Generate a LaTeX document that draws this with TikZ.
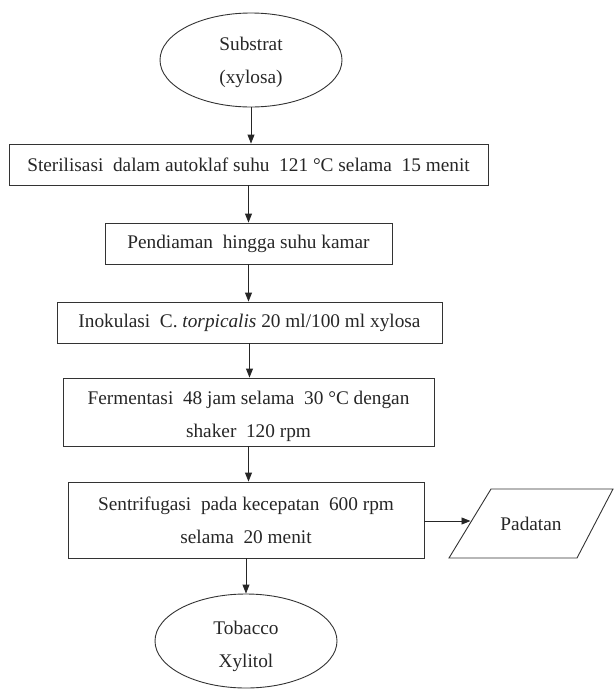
\documentclass[tikz,border=0pt]{standalone}
\usepackage{fontspec}
\setmainfont{Liberation Serif}
\usetikzlibrary{arrows.meta,shapes.geometric}
\begin{document}
\begin{tikzpicture}[x=1pt,y=-1pt,
  every node/.style={font=\fontsize{19.3}{33}\selectfont, text=black!85, align=center, inner sep=0pt},
  boxnode/.style={draw=black!80, line width=0.9pt, rectangle},
  ovalnode/.style={draw=black!80, line width=0.9pt, ellipse, minimum width=182pt, minimum height=94pt},
  edge line/.style={draw=black!80, line width=0.9pt},
  arr/.style={draw=black!85, line width=0.9pt, -{Triangle[length=9pt,width=7pt]}}
]
\useasboundingbox (0,0) rectangle (616,689);
\node[ovalnode] (sub) at (251,60) {\rule{0pt}{19pt}Substrat\\(xylosa)};
\node[boxnode, minimum width=479pt, minimum height=41pt] (b1) at (248.5,164.5)
  {Sterilisasi\ \ dalam autoklaf suhu\ \ 121 °C selama\ \ 15 menit};
\node[boxnode, minimum width=287pt, minimum height=41pt] (b2) at (248.5,243.5)
  {Pendiaman\ \ hingga suhu kamar};
\node[boxnode, minimum width=385pt, minimum height=41pt] (b3) at (249.5,322.5)
  {Inokulasi\ \ C. \textit{torpicalis} 20 ml/100 ml xylosa};
\node[boxnode, minimum width=371pt, minimum height=68pt] (b4) at (248.5,412)
  {\rule{0pt}{22pt}Fermentasi\ \ 48 jam selama\ \ 30 °C dengan\\shaker\ \ 120 rpm};
\node[boxnode, minimum width=356pt, minimum height=76pt] (b5) at (246,520)
  {Sentrifugasi\ \ pada kecepatan\ \ 600 rpm\\selama\ \ 20 menit};
\node[ovalnode] (tx) at (246,641) {\rule{0pt}{25pt}Tobacco\\Xylitol};
% parallelogram output
\draw[edge line] (491,489) -- (613,489) -- (577,558) -- (449,558) -- cycle;
\node (pad) at (531,523.5) {Padatan};
\coordinate (padL) at (470.5,521);
\draw[arr] (sub.south) -- (sub.south |- b1.north);
\draw[arr] (b1.south) -- (b2.north);
\draw[arr] (b2.south) -- (b2.south |- b3.north);
\draw[arr] (b3.south) -- (b3.south |- b4.north);
\draw[arr] (b4.south) -- (b4.south |- b5.north);
\draw[arr] (b5.south) -- (tx.north);
\draw[arr] (b5.east |- padL) -- (padL);
\end{tikzpicture}
\end{document}
